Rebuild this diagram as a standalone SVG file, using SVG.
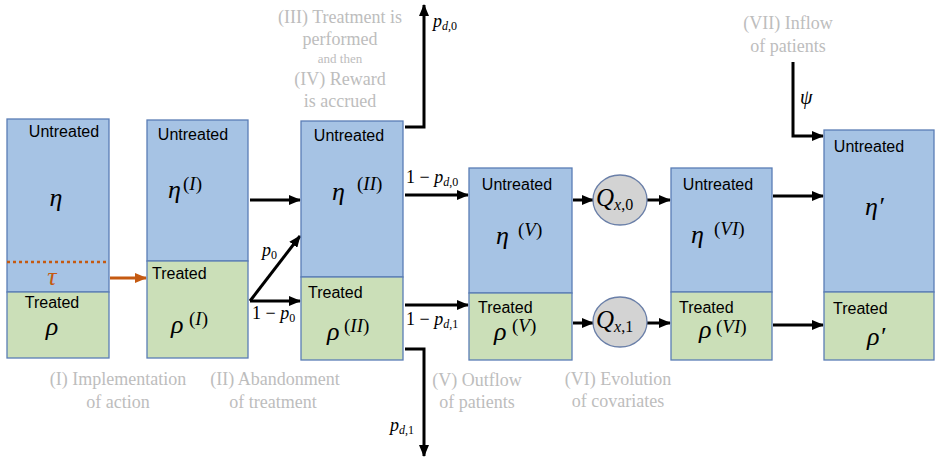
<svg xmlns="http://www.w3.org/2000/svg" width="941" height="462" viewBox="0 0 941 462">
<defs>
<style>
.bg{fill:#ffffff}
.blue{fill:#a6c3e4;stroke:#5a7db5;stroke-width:1.3}
.green{fill:#cbdfb8;stroke:#5a7db5;stroke-width:1.3}
.circ{fill:#d3d3d3;stroke:#6a7fa8;stroke-width:1.3}
.lbl{font-family:"Liberation Sans",Arial,sans-serif;font-size:16px;fill:#000}
.m{font-family:"Liberation Serif","DejaVu Serif",serif;font-style:italic;font-size:26px;fill:#000}
.sup{font-family:"Liberation Serif","DejaVu Serif",serif;font-size:19px;fill:#000}
.sm{font-family:"Liberation Serif","DejaVu Serif",serif;font-style:italic;font-size:18px;fill:#000}
.sub{font-size:12px;font-style:italic}
.up{font-style:normal}
.g{font-family:"Liberation Serif","Times New Roman",serif;font-size:18px;fill:#bdbdbd;text-anchor:middle}
.arr{fill:none;stroke:#000;stroke-width:3;marker-end:url(#ah)}
.oarr{fill:none;stroke:#c55a11;stroke-width:3;marker-end:url(#aho)}
</style>
<marker id="ah" markerUnits="userSpaceOnUse" markerWidth="12" markerHeight="10" refX="11" refY="5" orient="auto">
<path d="M0,0 L12,5 L0,10 z" fill="#000"/>
</marker>
<marker id="aho" markerUnits="userSpaceOnUse" markerWidth="12" markerHeight="10" refX="11" refY="5" orient="auto">
<path d="M0,0 L12,5 L0,10 z" fill="#c55a11"/>
</marker>
</defs>
<rect class="bg" x="0" y="0" width="941" height="462"/>

<g id="connectors">
<path class="oarr" d="M110 278 H146"/>
<path class="arr" d="M250 200 H300"/>
<path class="arr" d="M250 301 L300 236"/>
<path class="arr" d="M250 301 H300"/>
<path class="arr" d="M405 127 H424 V5"/>
<path class="arr" d="M405 349 H424 V456"/>
<path class="arr" d="M405 195 H468"/>
<path class="arr" d="M405 305 H468"/>
<path class="arr" d="M573 200 H593"/>
<path class="arr" d="M647 200 H670"/>
<path class="arr" d="M573 323 H593"/>
<path class="arr" d="M647 323 H670"/>
<path class="arr" d="M773 196 H823"/>
<path class="arr" d="M773 325 H823"/>
<path class="arr" d="M793 62 V136 H823"/>
<text class="sm" x="262" y="256">p<tspan class="up sub" dy="3">0</tspan></text>
<text class="sm" x="252" y="319"><tspan class="up">1 − </tspan>p<tspan class="up sub" dy="3">0</tspan></text>
<text class="sm" x="406" y="183"><tspan class="up">1 − </tspan>p<tspan class="sub" dy="3">d<tspan class="up">,0</tspan></tspan></text>
<text class="sm" x="406" y="325"><tspan class="up">1 − </tspan>p<tspan class="sub" dy="3">d<tspan class="up">,1</tspan></tspan></text>
<text class="sm" x="433" y="27">p<tspan class="sub" dy="3">d<tspan class="up">,0</tspan></tspan></text>
<text class="sm" x="390" y="431">p<tspan class="sub" dy="3">d<tspan class="up">,1</tspan></tspan></text>
<text class="sm" x="800" y="104" style="font-size:20px">ψ</text>
</g>

<g id="node-1">
<rect class="blue" x="7" y="119" width="102" height="173"/>
<rect class="green" x="7" y="292" width="102" height="66"/>
<line x1="7" y1="262" x2="109" y2="262" stroke="#c55a11" stroke-width="2.5" stroke-dasharray="3,3"/>
<text class="lbl" x="64" y="137" text-anchor="middle">Untreated</text>
<text class="m" x="56" y="206" text-anchor="middle">η</text>
<text class="m" x="52" y="285" text-anchor="middle" style="fill:#c55a11">τ</text>
<text class="lbl" x="52" y="308" text-anchor="middle">Treated</text>
<text class="m" x="52" y="335" text-anchor="middle">ρ</text>
</g>

<g id="node-2">
<rect class="blue" x="147" y="120" width="101" height="141"/>
<rect class="green" x="147" y="261" width="101" height="97"/>
<text class="lbl" x="193" y="140" text-anchor="middle">Untreated</text>
<text class="m" x="168" y="198">η</text>
<text class="sup" x="183" y="190">(<tspan font-style="italic">I</tspan>)</text>
<text class="lbl" x="152" y="279">Treated</text>
<text class="m" x="171" y="333">ρ</text>
<text class="sup" x="189" y="325">(<tspan font-style="italic">I</tspan>)</text>
</g>

<g id="node-3">
<rect class="blue" x="301" y="121" width="102" height="156"/>
<rect class="green" x="301" y="277" width="102" height="83"/>
<text class="lbl" x="349" y="141" text-anchor="middle">Untreated</text>
<text class="m" x="332" y="200">η</text>
<text class="sup" x="357" y="190">(<tspan font-style="italic">II</tspan>)</text>
<text class="lbl" x="308" y="298">Treated</text>
<text class="m" x="327" y="340">ρ</text>
<text class="sup" x="344" y="332">(<tspan font-style="italic">II</tspan>)</text>
</g>

<g id="node-4">
<rect class="blue" x="469" y="168" width="103" height="125"/>
<rect class="green" x="469" y="293" width="103" height="67"/>
<text class="lbl" x="517" y="190" text-anchor="middle">Untreated</text>
<text class="m" x="496" y="244">η</text>
<text class="sup" x="518" y="236">(<tspan font-style="italic">V</tspan>)</text>
<text class="lbl" x="478" y="313">Treated</text>
<text class="m" x="494" y="340">ρ</text>
<text class="sup" x="512" y="332">(<tspan font-style="italic">V</tspan>)</text>
</g>

<g id="node-q0">
<ellipse class="circ" cx="620" cy="200" rx="27" ry="25"/>
<text class="m" x="596" y="206" style="font-size:25px">Q<tspan class="sub" dy="4" style="font-size:16px">x<tspan class="up">,0</tspan></tspan></text>
</g>

<g id="node-q1">
<ellipse class="circ" cx="620" cy="322" rx="27" ry="25"/>
<text class="m" x="596" y="328" style="font-size:25px">Q<tspan class="sub" dy="4" style="font-size:16px">x<tspan class="up">,1</tspan></tspan></text>
</g>

<g id="node-5">
<rect class="blue" x="671" y="168" width="101" height="124"/>
<rect class="green" x="671" y="292" width="101" height="68"/>
<text class="lbl" x="718" y="190" text-anchor="middle">Untreated</text>
<text class="m" x="691" y="243">η</text>
<text class="sup" x="714" y="235">(<tspan font-style="italic">VI</tspan>)</text>
<text class="lbl" x="679" y="313">Treated</text>
<text class="m" x="699" y="338">ρ</text>
<text class="sup" x="716" y="333">(<tspan font-style="italic">VI</tspan>)</text>
</g>

<g id="node-6">
<rect class="blue" x="824" y="130" width="110" height="162"/>
<rect class="green" x="824" y="292" width="110" height="68"/>
<text class="lbl" x="869" y="152" text-anchor="middle">Untreated</text>
<text class="m" x="865" y="215">η′</text>
<text class="lbl" x="833" y="314">Treated</text>
<text class="m" x="867" y="345">ρ′</text>
</g>

<g id="annotations">
<text class="g" x="340" y="23">(III) Treatment is</text>
<text class="g" x="340" y="45">performed</text>
<text class="g" x="340" y="63" style="font-size:13px">and then</text>
<text class="g" x="340" y="85">(IV) Reward</text>
<text class="g" x="340" y="107">is accrued</text>
<text class="g" x="788" y="29">(VII) Inflow</text>
<text class="g" x="788" y="52">of patients</text>
<text class="g" x="118" y="385">(I) Implementation</text>
<text class="g" x="118" y="408">of action</text>
<text class="g" x="275" y="385">(II) Abandonment</text>
<text class="g" x="273" y="408">of treatment</text>
<text class="g" x="477" y="386">(V) Outflow</text>
<text class="g" x="477" y="408">of patients</text>
<text class="g" x="618" y="385">(VI) Evolution</text>
<text class="g" x="618" y="407">of covariates</text>
</g>
</svg>
